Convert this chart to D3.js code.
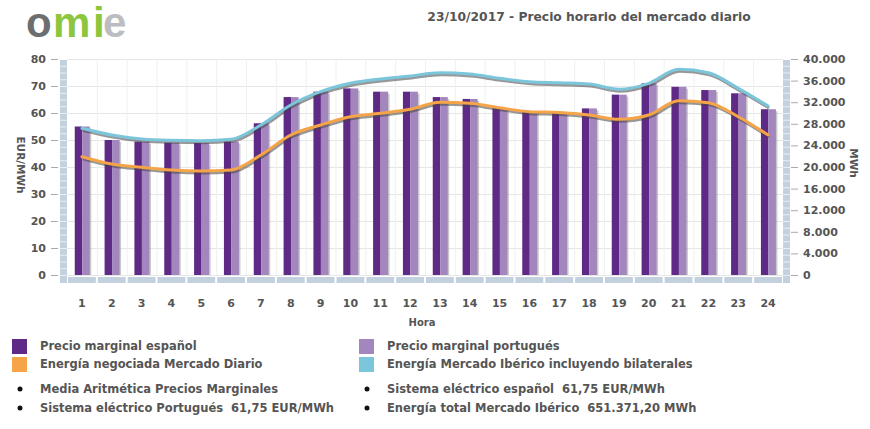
<!DOCTYPE html>
<html><head><meta charset="utf-8">
<script src="https://cdn.jsdelivr.net/npm/d3@7"></script>
<style>body{margin:0;background:#fff}svg{display:block}</style>
</head><body>
<svg id="c" width="870" height="429"></svg>
<script>
const hours = d3.range(1,25).map(String);
const precioES = [55,50,49.4,49,48.9,49.4,56.2,65.9,67.9,69.1,67.9,67.9,65.9,65.2,61.8,60.7,60.2,61.7,66.8,71,69.7,68.5,67.3,61.4];
const precioPT = [55,50,49.4,49,48.9,49.4,56.2,65.9,67.9,69.1,67.9,67.9,65.9,65.2,61.8,60.7,60.2,61.7,66.8,71,69.7,68.5,67.3,61.4];
const energiaMD = [21910,20560,19940,19440,19260,19440,22220,25930,27780,29310,29940,30680,31980,31790,30980,30240,30090,29630,28830,29630,32280,31910,29310,25930];
const energiaMI = [27170,25930,25190,24940,24870,25130,27780,31480,33950,35500,36300,36850,37460,37220,36420,35800,35610,35370,34390,35500,38090,37460,34570,31300];
const leftTicks = [0,10,20,30,40,50,60,70,80];
const rightTicks = [0,4000,8000,12000,16000,20000,24000,28000,32000,36000,40000];
const title = "23/10/2017 - Precio horario del mercado diario";
const legendItems = ["Precio marginal español","Precio marginal portugués","Energía negociada Mercado Diario","Energía Mercado Ibérico incluyendo bilaterales"];
const infoItems = ["Media Aritmética Precios Marginales","Sistema eléctrico español  61,75 EUR/MWh","Sistema eléctrico Portugués  61,75 EUR/MWh","Energía total Mercado Ibérico  651.371,20 MWh"];
const logoParts = [["o","#6d6e70",26],["m","#8cc63e",53],["i","#8cc63e",93],["e","#bcbdc0",103]];

const C = {dark:"#5f2a85", light:"#a386be", orange:"#f5a448", cyan:"#7cc6dc", strip:"#c3d0de", text:"#555"};
const FONT = "'DejaVu Sans', Verdana, sans-serif";
const svg = d3.select("#c");
const loc = d3.formatLocale({decimal:",", thousands:".", grouping:[3], currency:["","€"]});
const fmtR = loc.format(",d");

const x = d3.scaleBand().domain(hours).range([67,783]);
const yL = d3.scaleLinear().domain([0,80]).range([275,59]);
const yR = d3.scaleLinear().domain([0,40000]).range([275,59]);
const bw = x.bandwidth();

// logo
svg.append("g").selectAll("text").data(logoParts).join("text")
  .attr("x",d=>d[2]).attr("y",37).attr("font-family","'Liberation Sans', Arial, sans-serif").attr("font-weight","bold").attr("font-size",42)
  .attr("fill",d=>d[1]).text(d=>d[0]);

// title
svg.append("text").attr("x",589).attr("y",21).attr("text-anchor","middle").attr("font-family",FONT).attr("font-weight","bold").attr("font-size",12.3).attr("fill",C.text).text(title);

// grid
const g = svg.append("g");
g.selectAll(".hg").data(leftTicks).join("line").attr("x1",67).attr("x2",783).attr("y1",d=>yL(d)+0.5).attr("y2",d=>yL(d)+0.5).attr("stroke","#e6e6e6");
g.selectAll(".vg").data(hours.slice(1)).join("line").attr("x1",d=>x(d)+0.5).attr("x2",d=>x(d)+0.5).attr("y1",59).attr("y2",275).attr("stroke","#f0f0f0");

// side strips
const stripSeg = d3.range(0,32);
[60,783].forEach(sx=>{
  g.append("rect").attr("x",sx).attr("y",60).attr("width",7).attr("height",223).attr("fill",C.strip);
  g.selectAll(null).data(stripSeg).join("line").attr("x1",sx).attr("x2",sx+7)
    .attr("y1",d=>yL(d*2.5)+0.5).attr("y2",d=>yL(d*2.5)+0.5).attr("stroke","#e8eef4").attr("stroke-width",1);
});
// floor
g.selectAll(".fl").data(hours).join("rect").attr("x",d=>x(d)+1).attr("y",277).attr("width",bw-2).attr("height",6).attr("fill",C.strip);

// ticks
svg.append("g").selectAll("line").data(leftTicks).join("line").attr("x1",51).attr("x2",58).attr("y1",d=>yL(d)+0.5).attr("y2",d=>yL(d)+0.5).attr("stroke","#aaa");
svg.append("g").selectAll("line").data(rightTicks).join("line").attr("x1",791).attr("x2",798).attr("y1",d=>yR(d)+0.5).attr("y2",d=>yR(d)+0.5).attr("stroke","#aaa");
svg.append("g").selectAll("text").data(leftTicks).join("text").attr("x",46).attr("y",d=>yL(d)+4).attr("text-anchor","end")
  .attr("font-family",FONT).attr("font-weight","bold").attr("font-size",11).attr("fill",C.text).text(d=>d);
svg.append("g").selectAll("text").data(rightTicks).join("text").attr("x",803).attr("y",d=>yR(d)+4)
  .attr("font-family",FONT).attr("font-weight","bold").attr("font-size",11).attr("fill",C.text).text(d=>fmtR(d));
svg.append("g").selectAll("text").data(hours).join("text").attr("x",d=>x(d)+bw/2).attr("y",307).attr("text-anchor","middle")
  .attr("font-family",FONT).attr("font-weight","bold").attr("font-size",11).attr("fill",C.text).text(d=>d);
svg.append("text").attr("x",422).attr("y",326).attr("text-anchor","middle").attr("font-family",FONT).attr("font-weight","bold").attr("font-size",10).attr("fill",C.text).text("Hora");
svg.append("text").attr("transform","translate(17,165) rotate(90)").attr("text-anchor","middle").attr("font-family",FONT).attr("font-weight","bold").attr("font-size",10.5).attr("fill",C.text).text("EUR/MWh");
svg.append("text").attr("transform","translate(850,163) rotate(90)").attr("text-anchor","middle").attr("font-family",FONT).attr("font-weight","bold").attr("font-size",10.5).attr("fill",C.text).text("MWh");

// bars
const bars = svg.append("g");
const w = 7.5;
const data = hours.map((h,i)=>({h, es:precioES[i], pt:precioPT[i]}));
bars.selectAll(".s1").data(data).join("rect").attr("x",d=>x(d.h)+bw*0.26+w+1.5).attr("y",d=>yL(d.pt)+2).attr("width",w).attr("height",d=>275-yL(d.pt)-2).attr("fill","#888").attr("opacity",0.45);
bars.selectAll(".b1").data(data).join("rect").attr("x",d=>x(d.h)+bw*0.26).attr("y",d=>yL(d.es)).attr("width",w).attr("height",d=>275-yL(d.es)).attr("fill",C.dark);
bars.selectAll(".b2").data(data).join("rect").attr("x",d=>x(d.h)+bw*0.26+w).attr("y",d=>yL(d.pt)).attr("width",w).attr("height",d=>275-yL(d.pt)).attr("fill",C.light);

// lines
const line = d3.line().x((d,i)=>x(hours[i])+bw/2).y(d=>yR(d)).curve(d3.curveMonotoneX);
[[energiaMD,C.orange],[energiaMI,C.cyan]].forEach(([arr,col])=>{
  svg.append("path").attr("d",line(arr)).attr("transform","translate(1,2)").attr("fill","none").attr("stroke","#444").attr("stroke-opacity",0.55).attr("stroke-width",3);
  svg.append("path").attr("d",line(arr)).attr("fill","none").attr("stroke",col).attr("stroke-width",3).attr("stroke-linecap","round");
});

// legend
const lg = svg.append("g").attr("font-family",FONT).attr("font-weight","bold").attr("font-size",11.5).attr("fill",C.text);
const legCols = [C.dark,C.light,C.orange,C.cyan];
legendItems.forEach((t,i)=>{
  const cx = i%2===0 ? 12 : 359, cy = i<2 ? 339 : 357;
  lg.append("rect").attr("x",cx).attr("y",cy).attr("width",15).attr("height",15).attr("fill",legCols[i]);
  lg.append("text").attr("x",cx+28).attr("y",cy+11).text(t);
});
infoItems.forEach((t,i)=>{
  const cx = i%2===0 ? 20 : 367, cy = i<2 ? 390 : 409;
  lg.append("circle").attr("cx",cx).attr("cy",cy-1).attr("r",2.5).attr("fill","#111");
  lg.append("text").attr("x",cx+20).attr("y",cy+3).style("white-space","pre").text(t);
});
</script>
</body></html>
